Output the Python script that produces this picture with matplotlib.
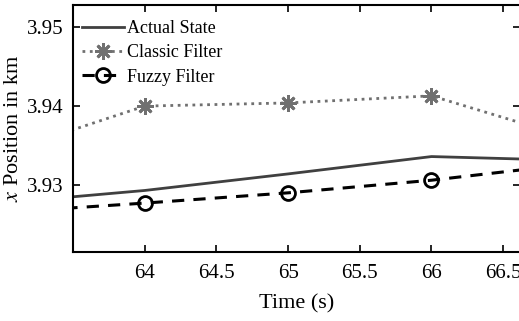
import matplotlib.pyplot as plt

# Time (s)
t = [63, 64, 65, 66, 67]

actual_state = [3.9277, 3.9293, 3.9314, 3.9336, 3.9331]
classic_filter = [3.9340, 3.9400, 3.9404, 3.9413, 3.9358]
fuzzy_filter = [3.9265, 3.9277, 3.9290, 3.9306, 3.9327]

marker_t = [64, 65, 66]
classic_marks = [3.9400, 3.9404, 3.9413]
fuzzy_marks = [3.9277, 3.9290, 3.9306]

plt.rcParams['font.family'] = ['Liberation Serif', 'DejaVu Serif']
plt.rcParams['mathtext.fontset'] = 'stix'

star = (8, 2, 0)  # matlab-like asterisk

fig = plt.figure(figsize=(5.19, 3.21), dpi=100)
ax = fig.add_axes([0.1407, 0.215, 0.862, 0.769])

ax.plot(t, actual_state, color='#404040', lw=2)
ax.plot(t, classic_filter, color='#707070', lw=2, ls=':')
ax.plot(marker_t, classic_marks, ls='none', marker=star, ms=12, mew=2, color='#707070')
ax.plot(t, fuzzy_filter, color='black', lw=2.2, ls=(0, (4, 3)))
ax.plot(marker_t, fuzzy_marks, ls='none', marker='o', ms=10, mfc='none', mew=2, color='black')

# legend proxies
h1, = ax.plot([], [], color='#404040', lw=2)
h2, = ax.plot([], [], color='#707070', lw=2, ls=':', marker=star, ms=12, mew=2)
h3, = ax.plot([], [], color='black', lw=2.2, ls=(0, (4, 3)), marker='o', ms=10, mfc='none', mew=2)
ax.legend([h1, h2, h3], ['Actual State', 'Classic Filter', 'Fuzzy Filter'],
          loc='upper left', frameon=False, fontsize=13, handlelength=2.3,
          handletextpad=0.15, labelspacing=0.4, borderaxespad=0.0,
          bbox_to_anchor=(0.005, 0.968))

ax.set_xlim(63.5, 66.62)
ax.set_ylim(3.9215, 3.9528)
ax.set_xticks([64, 64.5, 65, 65.5, 66, 66.5])
ax.set_xticklabels(['64', '64.5', '65', '65.5', '66', '66.5'])
ax.set_yticks([3.93, 3.94, 3.95])
ax.set_yticklabels(['3.93', '3.94', '3.95'])
ax.tick_params(direction='in', top=True, right=True, labelsize=15, length=5, width=1.2)
ax.tick_params(axis='x', pad=9)
ax.tick_params(axis='y', pad=7)
for s in ax.spines.values():
    s.set_linewidth(1.5)

ax.set_xlabel('Time (s)', fontsize=16, labelpad=8)
ax.set_ylabel('$x$ Position in km', fontsize=16, labelpad=3)

fig.savefig('out.png', dpi=100)
